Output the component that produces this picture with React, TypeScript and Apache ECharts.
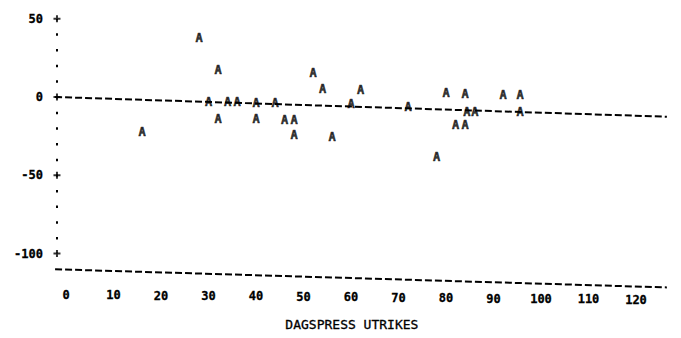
import React, { useEffect, useRef } from "react";
import * as echarts from "echarts";

// Observations (x = DAGSPRESS UTRIKES, y = residual-like value)
const obsX: number[] = [28, 32, 30, 34, 36, 32, 16, 52, 54, 62, 40, 44, 60, 40, 46, 48, 48, 56, 80, 84, 92, 95.6, 84.4, 86.1, 95.6, 82, 84, 78, 72];
const obsY: number[] = [37.5, 17.2, -3.0, -3.4, -3.4, -14.0, -22.2, 15.5, 4.9, 4.5, -3.6, -3.6, -4.5, -14.2, -14.7, -14.7, -24.3, -25.4, 2.4, 1.9, 1.3, 1.3, -9.4, -9.4, -9.8, -17.9, -17.9, -38.1, -6.4];

// Fitted (dashed) line end points
const fitX: number[] = [-2.3, 126.5];
const fitY: number[] = [0, -12.6];

// Printed horizontal axis line (skewed in the scan)
const baseX: number[] = [-2.3, 126.5];
const baseY: number[] = [-110, -121.6];

// Vertical axis
const yAxisX = -1.9;
const yTickValues: number[] = [50, 0, -50, -100];
const xTickValues: number[] = [0, 10, 20, 30, 40, 50, 60, 70, 80, 90, 100, 110, 120];

const MONO = "'DejaVu Sans Mono', 'Liberation Mono', monospace";
const INK = "#000";

export default function App() {
  const ref = useRef<HTMLDivElement>(null);
  useEffect(() => {
    document.body.style.margin = "0";
    if (!ref.current) return;
    const chart = echarts.init(ref.current, null, { renderer: "svg" });

    const rich: Record<string, any> = {};
    xTickValues.forEach((v) => {
      rich["s" + v] = {
        fontFamily: MONO,
        fontWeight: "bold",
        fontSize: 12,
        color: INK,
        textBorderColor: INK,
        textBorderWidth: 0.3,
        lineHeight: 14,
        padding: [Math.round(v / 12), 0, 0, 0],
      };
    });

    const option: any = {
      animation: false,
      backgroundColor: "#fff",
      grid: { left: 18.5, right: 11.75, top: 10.87, bottom: 45.25, containLabel: false },
      xAxis: {
        type: "value",
        min: -10,
        max: 127,
        interval: 10,
        axisLine: { show: false },
        axisTick: { show: false },
        splitLine: { show: false },
        axisLabel: {
          margin: -5,
          formatter: (v: number) =>
            v >= 0 && v <= 120 && v % 10 === 0 ? `{s${v}|${v}}` : "",
          rich,
        },
        name: "DAGSPRESS UTRIKES",
        nameLocation: "middle",
        nameGap: 25,
        nameTextStyle: {
          fontFamily: MONO,
          fontSize: 13,
          color: INK,
          textBorderColor: INK,
          textBorderWidth: 0.3,
          padding: [0, 0, 0, 16],
        },
      },
      yAxis: {
        type: "value",
        min: -125,
        max: 55,
        interval: 25,
        offset: -38.5,
        axisLine: { show: false },
        axisTick: { show: false },
        splitLine: { show: false },
        axisLabel: {
          margin: 14,
          fontFamily: MONO,
          fontWeight: "bold",
          fontSize: 12,
          color: INK,
          textBorderColor: INK,
          textBorderWidth: 0.3,
          formatter: (v: number) =>
            v % 50 === 0 && v >= -100 && v <= 50 ? String(v) : "",
        },
      },
      series: [
        {
          type: "line",
          data: [
            [yAxisX, yTickValues[0]],
            [yAxisX, yTickValues[yTickValues.length - 1]],
          ],
          symbol: "none",
          silent: true,
          lineStyle: { color: INK, width: 2, type: [2.5, 13.16], dashOffset: 1.25 },
        },
        {
          type: "scatter",
          data: yTickValues.map((v) => [yAxisX, v]),
          symbol: "path://M0,2.5H7V4.5H0Z M2.5,0H4.5V7H2.5Z",
          symbolSize: [7, 7],
          itemStyle: { color: INK },
          silent: true,
        },
        {
          type: "line",
          data: baseX.map((x, i) => [x, baseY[i]]),
          symbol: "none",
          silent: true,
          clip: false,
          lineStyle: { color: INK, width: 2, type: [7, 3] },
        },
        {
          type: "line",
          data: fitX.map((x, i) => [x, fitY[i]]),
          symbol: "none",
          silent: true,
          lineStyle: { color: INK, width: 2, type: [7, 3] },
        },
        {
          type: "scatter",
          data: obsX.map((x, i) => [x, obsY[i]]),
          symbol: "circle",
          symbolSize: 1,
          itemStyle: { color: "rgba(0,0,0,0)" },
          label: {
            show: true,
            position: "inside",
            formatter: "A",
            fontFamily: MONO,
            fontWeight: "bold",
            fontSize: 12,
            color: INK,
            textBorderColor: INK,
            textBorderWidth: 0.5,
            backgroundColor: "#fff",
            padding: [0, 0],
          },
        },
      ],
    };
    chart.setOption(option);
    return () => chart.dispose();
  }, []);
  return <div ref={ref} style={{ width: 681, height: 338 }} />;
}
